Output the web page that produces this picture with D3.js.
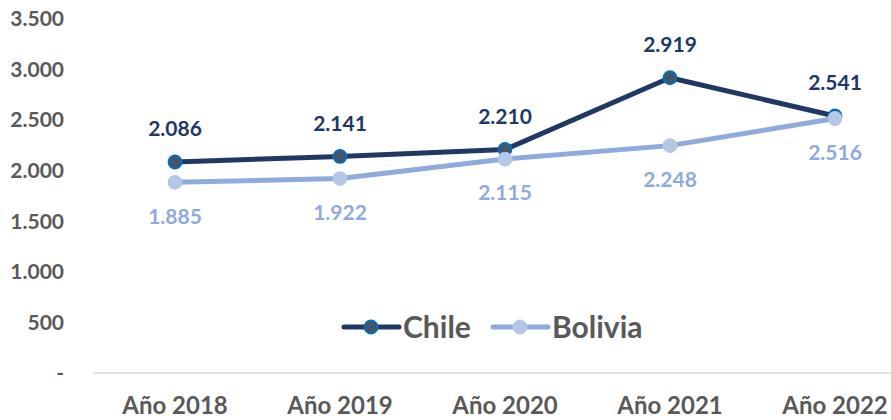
<!DOCTYPE html>
<html>
<head>
<meta charset="utf-8">
<script src="https://cdn.jsdelivr.net/npm/d3@7"></script>
<style>
  body { margin: 0; background: #fff; }
  svg { font-family: Lato, sans-serif; }
</style>
</head>
<body>
<svg width="891" height="420"></svg>
<script>
let years = ["Año 2018", "Año 2019", "Año 2020", "Año 2021", "Año 2022"];
let chile = [2086, 2141, 2210, 2919, 2541];
let bolivia = [1885, 1922, 2115, 2248, 2516];
let yTicks = [0, 500, 1000, 1500, 2000, 2500, 3000, 3500];

let svg = d3.select("svg");

let x = d3.scalePoint().domain(years).range([175, 835]);
let y = d3.scaleLinear().domain([0, 3500]).range([373, 19]);

let fmt = function (v) {
    if (v === 0) return "-";
    return d3.format(",")(v).replace(/,/g, ".");
};

// y tick labels
svg.append("g")
    .selectAll("text")
    .data(yTicks)
    .enter().append("text")
    .attr("x", 64)
    .attr("y", function (d) { return y(d); })
    .attr("dy", "0.35em")
    .attr("text-anchor", "end")
    .attr("font-size", 21)
    .attr("font-weight", "bold")
    .attr("fill", "#595959")
    .text(fmt);

// baseline
svg.append("line")
    .attr("x1", 93).attr("x2", 891)
    .attr("y1", y(0)).attr("y2", y(0))
    .attr("stroke", "#d9d9d9")
    .attr("stroke-width", 1.5);

// x labels
svg.append("g")
    .selectAll("text")
    .data(years)
    .enter().append("text")
    .attr("x", function (d) { return x(d); })
    .attr("y", 414)
    .attr("text-anchor", "middle")
    .attr("font-size", 24)
    .attr("font-weight", "bold")
    .attr("fill", "#595959")
    .text(function (d) { return d; });

let series = [
    { name: "Chile", values: chile, line: "#203864", fill: "#44546a", stroke: "#0070c0", label: "#203864", dy: -33 },
    { name: "Bolivia", values: bolivia, line: "#8faadc", fill: "#b4c7e7", stroke: "#b4c7e7", label: "#8faadc", dy: 34 }
];

let line = d3.line()
    .x(function (d, i) { return x(years[i]); })
    .y(function (d) { return y(d); });

series.forEach(function (s) {
    svg.append("path")
        .datum(s.values)
        .attr("d", line)
        .attr("fill", "none")
        .attr("stroke", s.line)
        .attr("stroke-width", 5)
        .attr("stroke-linejoin", "round");
});

series.forEach(function (s) {
    svg.append("g")
        .selectAll("circle")
        .data(s.values)
        .enter().append("circle")
        .attr("cx", function (d, i) { return x(years[i]); })
        .attr("cy", function (d) { return y(d); })
        .attr("r", 6.5)
        .attr("fill", s.fill)
        .attr("stroke", s.stroke)
        .attr("stroke-width", 1.8);

    svg.append("g")
        .selectAll("text")
        .data(s.values)
        .enter().append("text")
        .attr("x", function (d, i) { return x(years[i]); })
        .attr("y", function (d) { return y(d) + s.dy; })
        .attr("dy", "0.35em")
        .attr("text-anchor", "middle")
        .attr("font-size", 21)
        .attr("font-weight", "bold")
        .attr("fill", s.label)
        .text(fmt);
});

// legend
let legend = svg.append("g");
let legendX = [344, 493];
series.forEach(function (s, i) {
    let lx = legendX[i], ly = 327;
    legend.append("line")
        .attr("x1", lx).attr("x2", lx + 55)
        .attr("y1", ly).attr("y2", ly)
        .attr("stroke", s.line)
        .attr("stroke-width", 5)
        .attr("stroke-linecap", "round");
    legend.append("circle")
        .attr("cx", lx + 27).attr("cy", ly)
        .attr("r", 6.5)
        .attr("fill", s.fill)
        .attr("stroke", s.stroke)
        .attr("stroke-width", 1.8);
    legend.append("text")
        .attr("x", lx + 59).attr("y", ly)
        .attr("dy", "0.35em")
        .attr("font-size", 30)
        .attr("font-weight", "bold")
        .attr("fill", "#595959")
        .text(s.name);
});
</script>
</body>
</html>
